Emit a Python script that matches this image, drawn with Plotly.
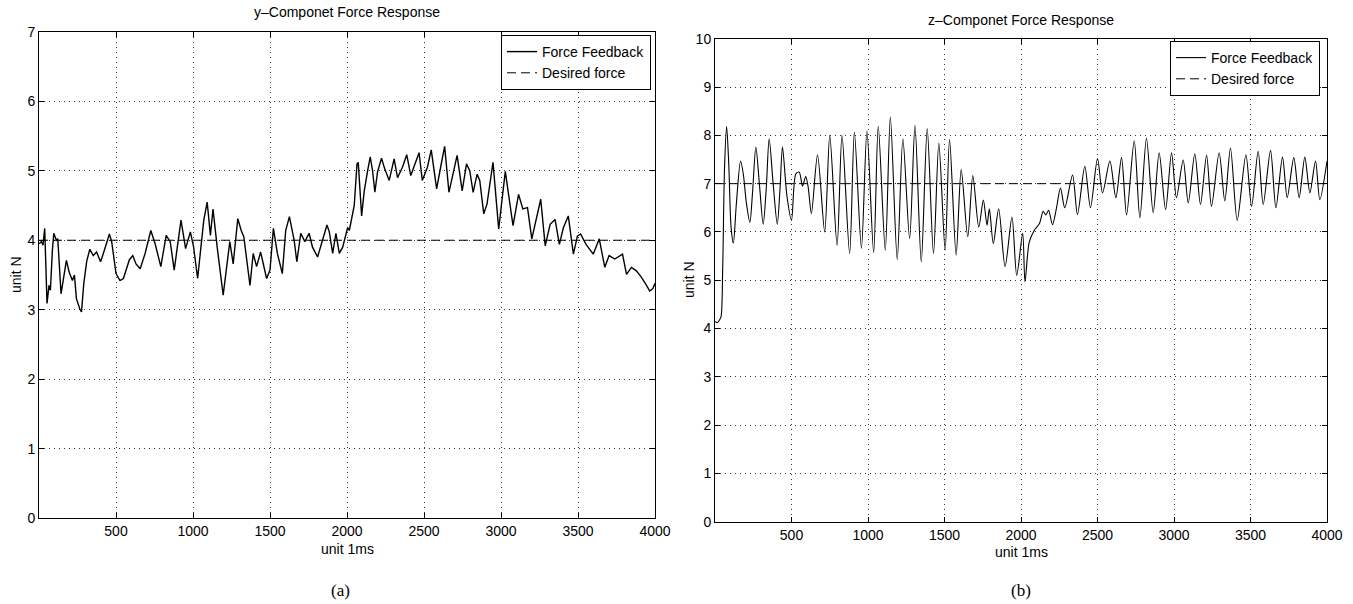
import plotly.graph_objects as go

# ---------------- data ----------------
y_time = [1, 15, 26, 37, 45, 52, 65, 74, 87, 96, 113, 122, 143, 160, 178, 196, 217, 230, 243, 265,
          276, 291, 310, 330, 352, 374, 400, 428, 457, 472, 500, 526, 548, 587, 609, 630, 657, 689,
          726, 754, 791, 826, 852, 878, 922, 952, 983, 1004, 1030, 1070, 1092, 1113, 1130, 1157,
          1196, 1239, 1261, 1291, 1313, 1330, 1370, 1391, 1413, 1439, 1457, 1478, 1500, 1522, 1548,
          1580, 1602, 1626, 1657, 1674, 1700, 1726, 1754, 1776, 1809, 1841, 1870, 1885, 1907, 1928,
          1950, 1972, 1987, 2004, 2015, 2030, 2047, 2065, 2073, 2095, 2112, 2134, 2151, 2166, 2181,
          2198, 2224, 2246, 2274, 2306, 2328, 2360, 2388, 2414, 2435, 2468, 2489, 2522, 2547, 2582,
          2608, 2634, 2662, 2690, 2715, 2748, 2776, 2797, 2819, 2845, 2862, 2888, 2909, 2948, 2985,
          3006, 3028, 3078, 3114, 3142, 3172, 3200, 3258, 3287, 3319, 3351, 3379, 3405, 3437, 3470,
          3496, 3517, 3552, 3599, 3638, 3674, 3702, 3739, 3789, 3815, 3847, 3879, 3911, 3940, 3966,
          3985, 4000]
y_force = [3.95, 3.98, 3.93, 4.17, 3.6, 3.09, 3.35, 3.28, 3.86, 4.1, 4.0, 4.02, 3.23, 3.5, 3.71, 3.54,
           3.42, 3.5, 3.16, 3.01, 2.97, 3.38, 3.7, 3.87, 3.78, 3.83, 3.69, 3.88, 4.09, 3.98, 3.52, 3.42,
           3.45, 3.72, 3.78, 3.66, 3.59, 3.81, 4.14, 3.95, 3.62, 4.07, 3.98, 3.57, 4.29, 3.88, 4.12, 3.9,
           3.45, 4.29, 4.55, 4.07, 4.45, 3.9, 3.21, 3.98, 3.66, 4.31, 4.14, 4.05, 3.35, 3.81, 3.62, 3.83,
           3.66, 3.45, 3.57, 4.17, 3.81, 3.52, 4.14, 4.34, 4.0, 3.69, 4.1, 3.98, 4.1, 3.9, 3.76, 4.0,
           4.22, 4.12, 3.81, 4.1, 3.81, 3.9, 4.04, 4.18, 4.14, 4.33, 4.5, 5.1, 5.12, 4.35, 4.71, 5.0,
           5.2, 5.0, 4.69, 4.98, 5.18, 5.02, 4.86, 5.17, 4.9, 5.05, 5.23, 4.93, 5.07, 5.26, 4.86, 5.05,
           5.3, 4.74, 5.05, 5.35, 4.69, 4.98, 5.22, 4.71, 5.1, 5.0, 4.69, 4.95, 4.86, 4.38, 4.52, 5.12,
           4.16, 4.57, 4.99, 4.21, 4.66, 4.45, 4.47, 4.02, 4.59, 3.92, 4.23, 4.3, 3.94, 4.18, 4.35, 3.8,
           4.06, 4.09, 3.94, 3.8, 4.02, 3.61, 3.78, 3.73, 3.8, 3.51, 3.61, 3.56, 3.47, 3.37, 3.27, 3.3,
           3.38]

z_time = [1, 15, 30, 40, 50, 62, 76, 90, 105, 120, 140, 167, 185, 205, 228, 245, 267, 290, 315, 335,
          354, 380, 407, 425, 441, 470, 500, 528, 550, 572, 593, 609, 630, 670, 717, 750, 798, 830,
          880, 911, 957, 993, 1037, 1067, 1113, 1146, 1191, 1228, 1272, 1307, 1348, 1387, 1428, 1463,
          1504, 1533, 1576, 1609, 1652, 1685, 1724, 1754, 1778, 1793, 1819, 1854, 1896, 1941, 1972,
          2011, 2026, 2054, 2090, 2120, 2145, 2162, 2180, 2206, 2232, 2258, 2286, 2337, 2369, 2417,
          2454, 2500, 2533, 2581, 2620, 2657, 2690, 2740, 2777, 2820, 2864, 2903, 2945, 2984, 3016,
          3060, 3093, 3136, 3173, 3213, 3245, 3295, 3332, 3369, 3413, 3470, 3507, 3550, 3583, 3631,
          3666, 3709, 3740, 3783, 3818, 3855, 3888, 3925, 3953, 4000]
z_force = [4.15, 4.12, 4.18, 4.25, 5.2, 7.3, 8.19, 7.4, 6.1, 5.77, 6.6, 7.47, 7.2, 6.6, 6.2, 6.8, 7.76,
           7.0, 6.16, 6.9, 7.93, 7.0, 6.16, 6.9, 7.76, 6.75, 6.24, 7.2, 7.24, 6.95, 7.15, 6.93, 6.38,
           7.6, 6.0, 8.0, 5.72, 8.0, 5.55, 8.07, 5.66, 8.09, 5.57, 8.19, 5.62, 8.38, 5.43, 7.93, 5.86,
           8.21, 5.38, 8.14, 5.55, 7.84, 5.62, 7.92, 5.52, 7.29, 5.9, 7.17, 6.1, 6.66, 6.14, 6.48, 5.76,
           6.48, 5.28, 6.31, 5.1, 5.97, 4.97, 5.79, 6.05, 6.17, 6.43, 6.35, 6.45, 6.15, 6.5, 6.91, 6.5,
           7.18, 6.36, 7.36, 6.5, 7.52, 6.81, 7.47, 6.71, 7.54, 6.35, 7.89, 6.29, 7.94, 6.4, 7.64, 6.46,
           7.64, 6.71, 7.49, 6.6, 7.62, 6.57, 7.59, 6.53, 7.64, 6.64, 7.74, 6.24, 7.6, 6.53, 7.67, 6.57,
           7.69, 6.5, 7.55, 6.71, 7.54, 6.71, 7.55, 6.81, 7.47, 6.67, 7.47]

desired_x = [0, 4000]
y_desired = [4.0, 4.0]
z_desired = [7.0, 7.0]

x_ticks = [500, 1000, 1500, 2000, 2500, 3000, 3500, 4000]
y_ticks_a = [0, 1, 2, 3, 4, 5, 6, 7]
y_ticks_b = [0, 1, 2, 3, 4, 5, 6, 7, 8, 9, 10]

# ---------------- layout helpers ----------------
W, H = 1353, 604
def px(x):
    return x / W
def py(y):
    return 1 - y / H

FONT = "Liberation Sans, Arial, Helvetica, sans-serif"
SERIF = "Liberation Serif, Times New Roman, serif"
fs = 14

fig = go.Figure()

fig.add_trace(go.Scatter(x=y_time, y=y_force, mode="lines", name="Force Feedback",
                         line=dict(color="black", width=1.4), xaxis="x", yaxis="y",
                         legend="legend"))
fig.add_trace(go.Scatter(x=desired_x, y=y_desired, mode="lines", name="Desired force",
                         line=dict(color="black", width=1, dash="9px,5px"), xaxis="x", yaxis="y",
                         legend="legend"))
fig.add_trace(go.Scatter(x=z_time, y=z_force, mode="lines", name="Force Feedback",
                         line=dict(color="black", width=1.1, shape="spline", smoothing=0.8),
                         xaxis="x2", yaxis="y2", legend="legend2"))
fig.add_trace(go.Scatter(x=desired_x, y=z_desired, mode="lines", name="Desired force",
                         line=dict(color="black", width=1, dash="9px,5px"), xaxis="x2", yaxis="y2",
                         legend="legend2"))

axis_common = dict(showline=True, linecolor="black", linewidth=1, mirror="ticks",
                   ticks="inside", ticklen=5, tickcolor="black", showgrid=True,
                   gridcolor="#333", gridwidth=1, griddash="1px,4px", zeroline=False,
                   tickfont=dict(family=FONT, size=fs, color="black"), automargin=False)

fig.update_layout(
    width=W, height=H, template="none",
    paper_bgcolor="white", plot_bgcolor="white",
    margin=dict(l=0, r=0, t=0, b=0),
    showlegend=True,
    xaxis=dict(domain=[px(39), px(655)], range=[0, 4000], tickvals=x_ticks, anchor="y", **axis_common),
    yaxis=dict(domain=[py(518.3), py(31.7)], range=[0, 7], tickvals=y_ticks_a, anchor="x", **axis_common),
    xaxis2=dict(domain=[px(715), px(1327)], range=[0, 4000], tickvals=x_ticks, anchor="y2", **axis_common),
    yaxis2=dict(domain=[py(521.7), py(38.8)], range=[0, 10], tickvals=y_ticks_b, anchor="x2", **axis_common),
    legend=dict(x=px(651), y=py(35), xanchor="right", yanchor="top", bgcolor="white",
                bordercolor="black", borderwidth=1, font=dict(family=FONT, size=fs, color="black"),
                tracegroupgap=0, itemwidth=30),
    legend2=dict(x=px(1320), y=py(41), xanchor="right", yanchor="top", bgcolor="white",
                 bordercolor="black", borderwidth=1, font=dict(family=FONT, size=fs, color="black"),
                 tracegroupgap=0, itemwidth=30),
)

ann_font = dict(family=FONT, size=fs, color="black")
annotations = [
    dict(text="y\u2013Componet Force Response", x=px(347), y=py(12), showarrow=False, font=ann_font),
    dict(text="z\u2013Componet Force Response", x=px(1021), y=py(20), showarrow=False, font=ann_font),
    dict(text="unit 1ms", x=px(347), y=py(549), showarrow=False, font=ann_font),
    dict(text="unit 1ms", x=px(1021), y=py(552), showarrow=False, font=ann_font),
    dict(text="unit N", x=px(16), y=py(275), showarrow=False, font=ann_font, textangle=-90),
    dict(text="unit N", x=px(689), y=py(280), showarrow=False, font=ann_font, textangle=-90),
    dict(text="(a)", x=px(340), y=py(590), showarrow=False,
         font=dict(family=SERIF, size=17, color="black")),
    dict(text="(b)", x=px(1021), y=py(590), showarrow=False,
         font=dict(family=SERIF, size=17, color="black")),
]
for a in annotations:
    a.update(xref="paper", yref="paper", xanchor="center", yanchor="middle")
fig.update_layout(annotations=annotations)

fig.write_html("out.html", config={"displayModeBar": False},
               post_script="document.body.style.margin='0';document.body.style.padding='0';"
                           "document.body.style.overflow='hidden';")
